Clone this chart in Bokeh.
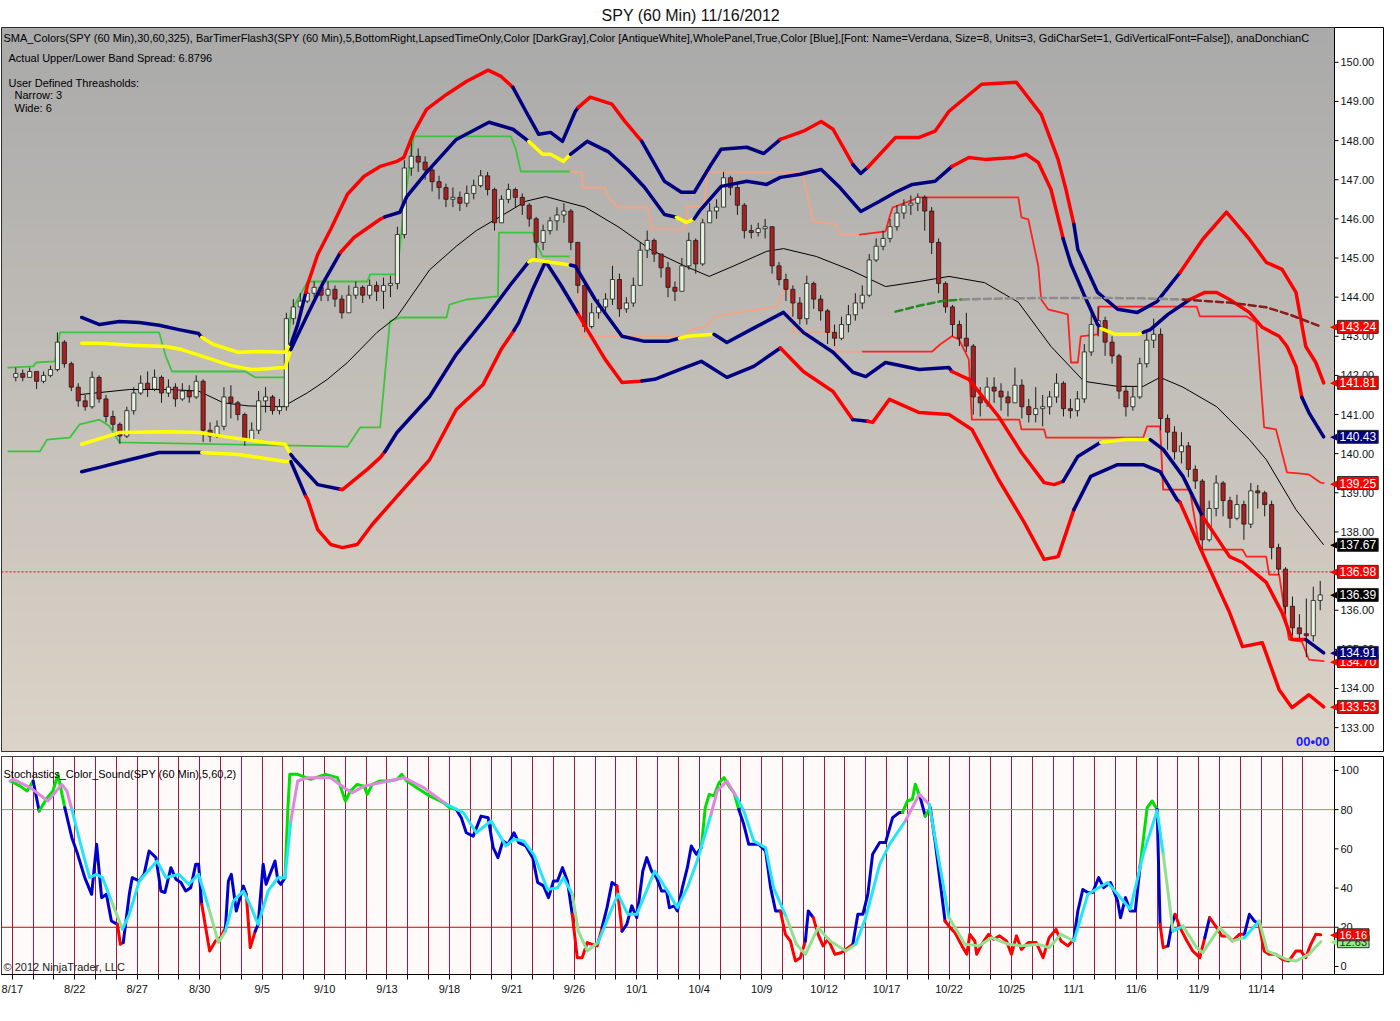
import numpy as np
from bokeh.plotting import figure
from bokeh.layouts import column
from bokeh.models import (ColumnDataSource, FixedTicker, Span, Label, Range1d)
from bokeh.core.properties import value
from bokeh.embed import file_html
from bokeh.resources import INLINE

FONT = "Liberation Sans"

# ---------------- data ----------------
dates = ["8/17", "8/20", "8/21", "8/22", "8/23", "8/24", "8/27", "8/28", "8/29", "8/30",
         "8/31", "9/4", "9/5", "9/6", "9/7", "9/10", "9/11", "9/12", "9/13", "9/14",
         "9/17", "9/18", "9/19", "9/20", "9/21", "9/24", "9/25", "9/26", "9/27", "9/28",
         "10/1", "10/2", "10/3", "10/4", "10/5", "10/8", "10/9", "10/10", "10/11", "10/12",
         "10/15", "10/16", "10/17", "10/18", "10/19", "10/22", "10/23", "10/24", "10/25", "10/26",
         "10/31", "11/1", "11/2", "11/5", "11/6", "11/7", "11/8", "11/9", "11/12", "11/13",
         "11/14", "11/15", "11/16"]
BARS_PER_DAY = 3
first_open = 141.95
closes = [142.05, 141.95, 142.10, 141.85, 142.00, 142.15, 142.85, 142.30, 141.70, 141.35, 141.20, 141.95,
          141.40, 140.95, 140.75, 140.45, 141.10, 141.55, 141.80, 141.65, 141.95, 141.55, 141.70, 141.40,
          141.60, 141.45, 141.85, 140.60, 140.45, 140.70, 141.45, 141.30, 141.00, 140.35, 140.60, 141.35,
          141.45, 141.10, 141.20, 143.45, 143.75, 143.90, 144.10, 144.25, 144.05, 144.20, 143.95, 143.60,
          144.05, 144.25, 144.05, 144.30, 144.15, 144.30, 144.35, 145.60, 147.30, 147.60, 147.45, 147.25,
          146.95, 146.80, 146.50, 146.55, 146.40, 146.65, 146.85, 147.10, 146.75, 145.90, 146.50, 146.75,
          146.55, 146.35, 146.00, 145.40, 145.70, 145.95, 146.10, 146.20, 145.40, 144.30, 143.25, 143.60,
          143.75, 143.95, 144.45, 143.70, 143.85, 144.30, 145.20, 145.45, 145.10, 144.75, 144.25, 144.15,
          144.80, 145.45, 144.85, 145.90, 146.20, 146.30, 147.05, 146.80, 146.35, 145.70, 145.65, 145.75,
          145.80, 144.80, 144.45, 144.20, 143.85, 143.45, 144.35, 143.95, 143.65, 143.10, 142.95, 143.30,
          143.55, 143.85, 144.05, 144.95, 145.30, 145.50, 145.80, 146.15, 146.35, 146.40, 146.55, 146.20,
          145.40, 144.35, 143.75, 143.30, 142.95, 142.75, 141.45, 141.30, 141.70, 141.60, 141.45, 141.30,
          141.75, 141.20, 141.00, 141.15, 141.20, 141.45, 141.80, 141.15, 141.10, 141.40, 142.60, 143.30,
          143.40, 142.85, 142.50, 141.60, 141.20, 141.45, 142.30, 142.90, 143.05, 140.90, 140.55, 140.05,
          140.20, 139.60, 139.30, 137.80, 138.60, 139.25, 138.80, 138.35, 138.70, 138.20, 139.05, 139.00,
          138.70, 137.60, 137.05, 136.10, 135.55, 135.40, 135.35, 136.25, 136.39]
highs = [142.20, 142.15, 142.20, 142.10, 142.10, 142.25, 143.10, 142.90, 142.35, 141.80, 141.50, 142.10,
         142.00, 141.50, 141.10, 140.80, 141.20, 141.70, 142.00, 142.10, 142.15, 142.00, 141.90, 141.80,
         141.80, 141.75, 142.00, 141.90, 140.80, 140.85, 141.70, 141.75, 141.35, 141.05, 140.80, 141.60,
         141.70, 141.50, 141.40, 143.60, 143.95, 144.10, 144.35, 144.40, 144.30, 144.40, 144.30, 144.05,
         144.30, 144.40, 144.30, 144.45, 144.40, 144.50, 144.55, 145.80, 147.50, 148.10, 147.80, 147.60,
         147.30, 147.10, 146.90, 146.80, 146.70, 146.85, 147.00, 147.25, 147.20, 146.80, 146.60, 146.90,
         146.80, 146.65, 146.40, 146.05, 145.85, 146.05, 146.30, 146.40, 146.25, 145.40, 144.40, 143.85,
         143.95, 144.10, 144.80, 144.60, 144.00, 144.50, 145.40, 145.70, 145.50, 145.10, 144.90, 144.40,
         145.00, 145.65, 145.50, 146.00, 146.40, 146.50, 147.20, 147.10, 146.90, 146.40, 145.85, 145.90,
         146.00, 145.80, 144.90, 144.60, 144.30, 144.00, 144.55, 144.40, 144.05, 143.70, 143.30, 143.50,
         143.80, 144.10, 144.30, 145.10, 145.50, 145.70, 146.00, 146.35, 146.50, 146.60, 146.65, 146.60,
         146.30, 145.50, 144.40, 143.80, 143.40, 143.60, 142.80, 141.70, 141.95, 141.95, 141.80, 141.60,
         142.20, 141.90, 141.40, 141.70, 141.50, 141.60, 142.05, 141.85, 141.40, 141.60, 142.80, 143.60,
         143.76, 143.50, 143.00, 142.55, 141.75, 141.70, 142.45, 143.10, 143.45, 143.20, 141.00, 140.70,
         140.55, 140.30, 139.70, 139.35, 138.80, 139.45, 139.30, 138.90, 138.95, 138.80, 139.25, 139.20,
         139.05, 138.80, 137.70, 137.10, 136.35, 135.90, 136.30, 136.60, 136.75]
lows = [141.85, 141.85, 141.95, 141.65, 141.80, 141.95, 142.10, 142.20, 141.60, 141.20, 141.10, 141.15,
        141.30, 140.80, 140.60, 140.25, 140.40, 141.00, 141.50, 141.45, 141.60, 141.30, 141.45, 141.20,
        141.35, 141.30, 141.40, 140.30, 140.30, 140.40, 140.60, 140.90, 140.85, 140.20, 140.30, 140.50,
        141.05, 141.00, 141.00, 141.10, 143.30, 143.60, 143.85, 144.00, 143.90, 143.90, 143.75, 143.45,
        143.60, 143.95, 143.85, 143.95, 143.90, 143.70, 144.00, 144.20, 145.50, 147.10, 147.20, 147.00,
        146.70, 146.50, 146.30, 146.30, 146.20, 146.30, 146.50, 146.80, 146.60, 145.70, 145.90, 146.40,
        146.30, 146.10, 145.80, 145.00, 145.20, 145.60, 145.70, 145.90, 145.20, 144.10, 143.10, 143.20,
        143.45, 143.60, 143.80, 143.50, 143.60, 143.75, 144.30, 145.00, 144.90, 144.50, 144.00, 143.90,
        144.15, 144.70, 144.60, 144.80, 145.90, 146.00, 146.30, 146.60, 146.10, 145.50, 145.50, 145.55,
        145.50, 144.60, 144.30, 143.90, 143.50, 143.30, 143.30, 143.70, 143.40, 142.80, 142.75, 142.90,
        143.10, 143.40, 143.70, 144.00, 144.90, 145.20, 145.40, 145.70, 146.00, 146.10, 146.20, 145.70,
        145.10, 144.10, 143.60, 143.00, 142.75, 142.60, 141.00, 140.95, 141.20, 141.30, 141.10, 140.95,
        141.30, 140.90, 140.80, 140.80, 140.70, 141.00, 141.30, 140.95, 140.90, 140.95, 141.30, 142.50,
        143.00, 142.50, 142.30, 141.40, 140.95, 141.10, 141.40, 142.20, 142.70, 140.60, 140.10, 139.85,
        139.75, 139.40, 139.10, 137.55, 137.75, 138.40, 138.40, 138.10, 138.30, 137.80, 138.10, 138.60,
        138.40, 137.30, 136.90, 135.90, 135.35, 135.25, 134.80, 135.20, 136.00]

# 60-bar SMA (thin black): (trading-day position, price)
sma_t = [3.24, 5.62, 7.52, 8.95, 10.14, 11.33, 13.00, 14.19, 15.14, 16.10, 17.52, 18.48, 20.05, 21.33,
         22.29, 23.57, 24.67, 25.62, 27.52, 29.10, 30.71, 32.29, 33.48, 34.67, 36.24, 37.05, 38.62, 40.24,
         41.95, 43.57, 45.00, 46.71, 48.33, 49.90, 51.48, 53.10, 54.33, 55.14, 56.24, 57.86, 59.43, 60.24,
         61.67, 63.00]
sma_v = [141.51, 141.64, 141.64, 141.60, 141.30, 141.22, 141.20, 141.56, 141.90, 142.33, 143.10, 143.50,
         144.70, 145.30, 145.70, 146.10, 146.45, 146.57, 146.30, 145.80, 145.20, 144.80, 144.53, 144.80,
         145.17, 145.24, 145.04, 144.70, 144.27, 144.40, 144.53, 144.37, 143.87, 142.74, 141.85, 141.72,
         141.72, 141.95, 141.70, 141.20, 140.36, 139.85, 138.57, 137.67]

# Band states: n = narrow spread, m = normal, w = wide spread (per segment starting at each point)
ou_t = [3.33, 4.19, 5.14, 6.10, 7.05, 8.00, 8.95, 9.10, 9.67, 10.86, 11.81, 13.10, 13.38, 13.71, 14.10,
        14.19, 14.67, 15.29, 16.10, 16.90, 17.67, 18.48, 18.81, 19.29, 19.90, 20.86, 21.81, 22.86, 23.48,
        24.05, 24.67, 25.29, 25.86, 26.43, 27.05, 27.19, 27.76, 28.81, 29.43, 30.24, 31.33, 32.14, 32.76,
        33.57, 34.05, 35.29, 36.10, 36.90, 38.00, 38.86, 39.43, 40.38, 40.76, 41.10, 42.43, 43.57, 44.33,
        45.00, 46.57, 48.24, 49.43, 50.24, 50.62, 51.00, 51.19, 52.14, 53.10, 54.05, 55.00, 56.10, 57.19,
        58.33, 59.43, 60.24, 61.00, 61.67, 62.14, 62.62, 63.00]
ou_v = [143.48, 143.30, 143.38, 143.35, 143.28, 143.17, 143.07, 142.97, 142.79, 142.59, 142.61, 142.59,
        142.79, 143.30, 144.12, 144.33, 145.09, 145.73, 146.63, 147.09, 147.34, 147.47, 147.57, 148.21,
        148.80, 149.18, 149.51, 149.80, 149.64, 149.36, 148.75, 148.16, 148.21, 147.98, 148.75, 148.85,
        149.11, 148.93, 148.49, 147.98, 146.96, 146.68, 146.68, 147.39, 147.78, 147.83, 147.67, 148.03,
        148.24, 148.49, 148.29, 147.39, 147.16, 147.32, 148.08, 148.08, 148.24, 148.75, 149.44, 149.49,
        148.67, 147.52, 146.75, 145.86, 145.22, 144.12, 143.69, 143.61, 143.89, 144.63, 145.48, 146.17,
        145.48, 144.89, 144.71, 144.12, 142.74, 142.33, 141.81]
ou_state = ("m" * 7 + "n" * 5 + "m" * 2 + "w" * 15 + "m" * 6 + "w" * 4 + "m" * 8 + "w" * 4 + "m" * 2
            + "w" * 10 + "m" * 6 + "w" * 10)

ol_t = [3.33, 4.19, 5.29, 7.05, 8.95, 9.10, 10.86, 13.10, 13.38, 13.71, 14.10, 14.19, 14.67, 15.29, 15.86,
        16.57, 17.29, 18.48, 20.05, 21.33, 22.62, 23.48, 24.10, 24.33, 25.00, 25.62, 26.33, 27.05, 27.19,
        27.62, 28.48, 29.29, 30.14, 30.24, 30.86, 32.05, 33.10, 34.33, 35.62, 36.90, 38.00, 39.43, 40.38,
        41.10, 41.33, 42.14, 43.57, 45.00, 46.10, 47.38, 48.62, 49.57, 50.24, 51.00, 51.81, 53.10, 54.33,
        55.14, 55.95, 56.10, 57.38, 58.48, 59.10, 60.05, 60.86, 61.48, 62.29, 63.00]
ol_v = [139.54, 139.65, 139.80, 140.03, 140.03, 140.03, 139.98, 139.80, 139.80, 139.39, 138.91, 138.83,
        138.06, 137.68, 137.60, 137.68, 138.19, 138.91, 139.85, 141.13, 141.77, 142.66, 143.15, 143.35,
        144.20, 144.91, 144.33, 143.69, 143.56, 143.17, 142.41, 141.82, 141.85, 141.86, 141.90, 142.15,
        142.36, 141.95, 142.23, 142.70, 142.10, 141.59, 140.87, 140.83, 140.80, 141.39, 141.05, 141.00,
        140.62, 139.34, 138.24, 137.30, 137.37, 138.57, 139.42, 139.72, 139.72, 139.54, 138.83, 138.75,
        137.22, 135.94, 135.07, 135.17, 133.97, 133.51, 133.84, 133.53]
ol_state = ("m" * 5 + "n" * 3 + "m" * 2 + "w" * 12 + "m" * 6 + "w" * 5 + "m" * 6 + "w" * 3 + "m" * 1
            + "w" * 10 + "m" * 6 + "w" * 9)

iu_t = [3.33, 4.19, 5.76, 7.38, 8.14, 9.29, 10.52, 11.48, 13.10, 13.38, 14.19, 14.90, 15.76, 16.43, 17.67,
        17.90, 18.62, 18.95, 19.90, 21.33, 22.90, 24.05, 24.81, 25.48, 25.86, 26.48, 26.81, 27.62, 28.62,
        29.57, 30.38, 31.33, 31.90, 32.38, 32.76, 33.00, 34.05, 35.29, 36.24, 36.90, 37.86, 38.86, 39.76,
        40.76, 41.67, 42.43, 43.24, 44.33, 45.14, 45.95, 46.71, 48.14, 48.71, 49.29, 49.90, 50.38, 50.48,
        50.86, 51.48, 52.14, 52.29, 53.00, 54.05, 54.33, 54.67, 55.52, 56.57, 57.29, 57.86, 58.48, 59.43,
        60.05, 60.86, 61.24, 61.67, 61.95, 62.29, 63.00]
iu_v = [142.82, 142.82, 142.77, 142.74, 142.66, 142.46, 142.25, 142.15, 142.20, 142.66, 143.56, 144.33,
        145.14, 145.53, 145.99, 146.05, 146.17, 146.57, 147.19, 148.03, 148.47, 148.29, 147.98, 147.65,
        147.65, 147.47, 147.65, 147.98, 147.72, 147.26, 146.80, 146.11, 146.04, 145.91, 146.00, 146.19,
        146.83, 146.96, 146.88, 147.06, 147.14, 147.26, 146.80, 146.19, 146.45, 146.68, 146.88, 146.96,
        147.34, 147.57, 147.52, 147.57, 147.65, 147.44, 146.75, 145.73, 145.50, 144.84, 144.07, 143.30,
        143.20, 143.05, 143.05, 143.10, 143.17, 143.56, 143.94, 144.12, 144.12, 143.94, 143.61, 143.23,
        143.00, 142.74, 142.23, 141.44, 141.05, 140.43]
iu_state = ("n" * 9 + "m" * 3 + "w" * 3 + "m" * 7 + "n" * 4 + "m" * 6 + "n" * 2 + "m" * 14 + "w" * 8
            + "m" * 4 + "n" * 3 + "m" * 3 + "w" * 9 + "m" * 3)

il_t = [3.33, 5.14, 7.38, 8.95, 10.52, 12.14, 13.10, 13.38, 13.57, 14.67, 15.76, 15.86, 17.05, 17.67,
        17.90, 18.48, 20.05, 21.33, 22.76, 23.95, 24.81, 25.00, 25.62, 26.81, 27.05, 28.00, 29.29, 30.38,
        31.48, 32.05, 32.43, 33.71, 34.33, 35.48, 37.05, 38.00, 39.43, 40.38, 41.00, 41.95, 43.57, 45.00,
        45.14, 45.95, 47.38, 48.48, 49.57, 50.05, 50.48, 51.19, 52.29, 53.48, 54.67, 55.29, 56.24, 57.19,
        58.48, 59.10, 60.24, 61.00, 61.48, 62.14, 63.00]
il_v = [140.24, 140.54, 140.56, 140.54, 140.41, 140.29, 140.24, 139.98, 139.85, 139.21, 139.09, 139.08,
        139.60, 139.90, 140.05, 140.54, 141.46, 142.54, 143.48, 144.33, 144.90, 144.96, 144.91, 144.82,
        144.79, 143.94, 143.00, 142.87, 142.87, 142.95, 143.00, 143.05, 142.84, 143.17, 143.61, 143.10,
        142.59, 142.08, 141.97, 142.33, 142.15, 142.20, 142.10, 141.90, 140.95, 140.03, 139.26, 139.21,
        139.29, 139.93, 140.29, 140.36, 140.36, 140.11, 139.42, 138.39, 137.37, 137.22, 136.71, 135.94,
        135.25, 135.25, 134.91]
il_state = ("n" * 7 + "m" * 3 + "w" * 4 + "m" * 6 + "n" * 3 + "m" * 6 + "n" * 2 + "m" * 11 + "w" * 6
            + "m" * 2 + "n" * 2 + "m" * 3 + "w" * 6 + "m" * 2)

# Donchian channel (phase a / b / c)
du_t = [-0.19, 1.00, 1.14, 2.05, 2.29, 7.05, 7.38, 7.67, 11.19, 11.67, 13.10, 13.38, 14.19, 17.05, 17.19,
        18.48, 18.86, 19.29, 23.95, 24.19, 24.43, 26.81, 27.38, 27.40, 28.48, 28.62, 29.10, 30.52, 30.71,
        32.29, 32.43, 33.24, 33.38, 37.86, 38.00, 38.48, 39.57, 39.76, 40.71, 41.95, 42.14, 42.29, 43.57,
        48.33, 48.48, 48.81, 49.29, 49.43, 49.76, 50.71, 50.86, 51.19, 51.33, 52.14, 52.19, 56.90, 57.05,
        59.29, 59.76, 60.14, 60.71, 61.24, 62.29, 62.86, 63.00]
du_v = [142.20, 142.23, 142.33, 142.36, 143.10, 143.10, 142.48, 142.10, 142.10, 141.95, 141.95, 143.63,
        144.40, 144.40, 144.58, 144.58, 146.50, 148.11, 148.11, 147.78, 147.21, 147.21, 147.19, 146.80,
        146.80, 146.55, 146.29, 146.29, 145.73, 145.73, 146.32, 146.32, 147.19, 147.19, 147.06, 145.94,
        145.86, 145.60, 145.60, 145.68, 146.04, 146.29, 146.55, 146.55, 146.04, 145.99, 144.79, 143.94,
        143.69, 143.56, 142.33, 142.33, 143.00, 143.05, 143.76, 143.76, 143.51, 143.51, 143.35, 140.67,
        140.62, 139.52, 139.47, 139.26, 139.25]
du_phase = "a" * 21 + "b" * 17 + "c" * 27
dl_t = [-0.19, 1.33, 1.67, 2.76, 3.24, 4.19, 4.67, 5.14, 16.10, 16.71, 17.67, 18.14, 18.62, 20.86, 21.00,
        21.81, 23.33, 23.38, 25.00, 25.14, 25.48, 26.81, 27.05, 27.38, 32.29, 32.62, 33.38, 33.71, 36.71,
        37.05, 37.38, 37.52, 39.43, 39.57, 40.86, 44.19, 44.57, 45.14, 45.48, 45.95, 46.10, 48.38, 48.48,
        49.57, 49.67, 54.33, 54.52, 55.14, 55.29, 56.57, 57.05, 59.10, 59.29, 60.24, 60.38, 60.86, 61.33,
        61.95, 62.29, 63.00]
dl_v = [140.06, 140.06, 140.36, 140.41, 140.75, 140.87, 140.70, 140.29, 140.18, 140.67, 140.67, 143.38,
        143.48, 143.48, 143.81, 143.94, 144.02, 145.65, 145.65, 145.40, 145.04, 145.04, 144.79, 143.00,
        143.00, 143.17, 143.25, 143.51, 143.76, 144.15, 144.15, 143.10, 143.10, 142.61, 142.61, 142.61,
        142.79, 143.00, 142.92, 142.41, 140.87, 140.87, 140.62, 140.62, 140.41, 140.41, 140.70, 140.70,
        139.08, 139.08, 137.55, 137.55, 137.37, 137.37, 136.91, 136.91, 135.25, 135.20, 134.74, 134.70]
dl_phase = "a" * 21 + "b" * 13 + "c" * 26

# projection (dashed)
fc_t = [42.43, 43.71, 44.67, 45.62, 47.05, 49.43, 51.81, 54.19, 56.24, 58.48, 60.24, 61.33, 62.90]
fc_v = [143.63, 143.80, 143.90, 143.94, 143.96, 143.98, 143.98, 143.97, 143.94, 143.86, 143.74, 143.56, 143.24]
fc_phase = "a" * 3 + "b" * 5 + "c" * 5
alert_level = 136.98

price_ticks = list(range(133, 151))
stoch_ticks = [0, 20, 40, 60, 80, 100]

# Stochastics %K and %D
k_t = [-0.10, 0.38, 0.71, 1.00, 1.29, 1.67, 1.95, 2.19, 2.52, 2.86, 3.14, 3.48, 3.81, 4.05, 4.29, 4.52,
       4.76, 5.05, 5.19, 5.33, 5.62, 5.76, 6.10, 6.33, 6.57, 6.90, 7.14, 7.33, 7.62, 7.86, 8.10, 8.33,
       8.57, 8.81, 8.95, 9.10, 9.29, 9.48, 9.76, 10.00, 10.24, 10.38, 10.52, 10.76, 11.10, 11.24, 11.43,
       11.67, 11.81, 12.05, 12.19, 12.62, 12.76, 12.90, 13.10, 13.24, 13.33, 13.71, 14.33, 15.05, 15.62,
       16.00, 16.24, 16.57, 16.90, 17.05, 17.29, 17.67, 18.10, 18.48, 18.71, 18.95, 19.43, 20.05, 20.71,
       21.00, 21.33, 21.57, 21.81,
       22.14, 22.52, 22.86, 23.10, 23.33, 23.57, 23.81, 24.10, 24.33, 24.67, 25.00, 25.24, 25.52, 25.76,
       26.00, 26.19, 26.43, 26.67, 26.90, 27.14, 27.38, 27.62, 27.86, 28.10, 28.33, 28.57, 28.81, 29.05,
       29.29, 29.52, 29.76, 30.00, 30.29, 30.48, 30.71, 30.95, 31.19, 31.43, 31.57, 31.81, 31.95, 32.19,
       32.43, 32.62, 32.86, 33.10, 33.29, 33.48, 33.71, 33.95, 34.19, 34.43, 34.67, 34.90, 35.14, 35.38,
       35.62, 35.86, 36.19, 36.43, 36.67, 36.90, 37.14, 37.38, 37.62, 37.86, 38.10, 38.24, 38.48, 38.71,
       38.95, 39.19, 39.52, 39.81, 40.05, 40.38, 40.62, 40.86, 41.10, 41.33, 41.67, 41.95, 42.29, 42.62,
       42.76, 43.00, 43.24, 43.38, 43.62,
       43.86, 44.10, 44.33, 44.57, 44.81, 45.05, 45.29, 45.62, 45.86, 46.00, 46.24, 46.33, 46.57, 46.90,
       47.14, 47.43, 47.76, 48.00, 48.24, 48.48, 48.81, 49.19, 49.52, 49.81, 50.14, 50.38, 50.71, 51.00,
       51.19, 51.43, 51.67, 51.90, 52.19, 52.43, 52.76, 53.10, 53.24, 53.48, 53.71, 53.95, 54.19, 54.52,
       54.76, 55.00, 55.14, 55.29, 55.52, 55.71, 55.86, 56.10, 56.43, 56.71, 57.05, 57.29, 57.52, 57.86,
       58.10, 58.38, 58.62, 58.95, 59.19, 59.43, 59.67, 59.90, 60.14, 60.38, 60.71, 61.00, 61.33, 61.67,
       61.90, 62.14, 62.38, 62.62, 62.86]
k_v = [94.6, 92.0, 89.5, 94.6, 79.3, 86.0, 89.5, 98.0, 81.0, 65.7, 57.2, 45.3, 36.8, 62.3, 35.1, 36.8,
       23.2, 21.5, 11.3, 12.2, 36.8, 45.3, 43.6, 47.0, 58.9, 55.5, 38.5, 37.7, 50.4, 44.5, 42.8, 38.5,
       40.2, 52.1, 52.1, 31.7, 19.8, 7.9, 13.0, 14.7, 19.8, 43.6, 47.0, 28.3, 41.0, 36.8, 9.6,
       18.0, 21.5, 52.1, 41.9, 53.8, 43.6, 41.9, 45.3, 81.0, 98.0, 98.0, 95.4, 98.0, 96.3,
       84.4, 89.5, 92.9, 92.0, 87.8, 92.9, 94.6, 94.6, 95.4, 98.0, 94.6, 91.2, 87.0, 83.6,
       81.0, 80.1, 75.9, 68.2,
       66.5, 76.7, 75.9, 60.6, 55.5, 64.0, 62.3, 68.2, 63.2, 61.5, 55.5, 42.8, 41.1, 35.1,
       43.6, 43.6, 50.4, 43.6, 26.6, 4.5, 4.5, 12.2, 11.3, 10.5, 19.8, 30.0, 42.8, 41.1,
       18.0, 21.5, 30.9, 24.9, 48.7, 55.5, 48.7, 45.3, 38.5, 38.5, 30.0, 30.9, 28.3, 40.2,
       50.4, 61.5, 57.2, 60.6, 81.0, 87.8, 87.0, 93.7, 96.3, 92.0, 88.6, 80.1, 72.5, 62.3,
       62.3, 62.3, 58.9, 40.2, 28.3, 28.3, 16.4, 13.0, 2.8, 4.5, 13.0, 28.3, 24.9, 16.4,
       10.5, 13.9, 6.2, 7.0, 8.7, 11.3, 26.6, 26.6, 36.8, 57.2, 63.2, 63.2, 75.9, 78.5,
       78.5, 84.4, 85.3, 92.9, 86.1,
       76.7, 81.0, 64.0, 43.6, 23.2, 19.8, 17.2, 10.5, 6.2, 16.4, 13.0, 6.2, 11.3, 16.4,
       13.9, 15.6, 13.0, 6.2, 15.6, 8.7, 12.2, 12.2, 4.5, 14.7, 18.9, 13.0, 10.5, 13.9,
       28.3, 39.3, 37.7, 37.7, 45.3, 40.2, 42.8, 33.4, 24.9, 35.1, 28.3, 28.3, 52.1, 81.0,
       84.4, 80.1, 21.5, 9.6, 10.5, 21.5, 26.6, 19.8, 13.0, 7.9, 4.5, 14.7, 24.9, 19.8,
       15.6, 15.6, 13.0, 16.4, 16.4, 26.6, 23.2, 21.5, 7.9, 6.2, 6.2, 3.7, 2.8, 7.9,
       7.9, 4.5, 11.3, 16.4, 16.16]
d_t = [-0.10, 0.05, 0.86, 1.71, 2.38, 2.62, 2.86, 3.24, 3.71, 4.05, 4.33, 4.76, 5.29, 5.62, 6.10, 6.95,
       7.38, 8.00, 8.48, 8.95, 9.43, 9.90, 10.24, 10.62, 11.10, 11.48, 11.81, 12.29, 12.76, 13.10, 13.38,
       13.71, 14.19, 15.29, 15.95, 16.33, 16.90, 17.67, 18.81, 19.76, 20.86, 21.67, 22.29, 23.00, 23.71,
       24.10, 24.57, 25.05, 25.71, 26.19, 26.48, 26.90, 27.19, 27.62, 28.14, 28.62, 29.10, 29.57, 30.00,
       30.86, 31.48, 31.95, 32.43, 32.90, 33.57, 33.86, 34.33, 34.81, 35.14, 35.62, 36.19, 36.57, 37.19,
       37.67, 38.10, 38.71, 39.29, 40.05, 40.52, 41.00, 41.67, 42.14, 42.90, 43.57, 44.05, 44.52, 45.00,
       45.29, 45.76, 46.43, 47.05, 47.86, 48.48, 49.29, 49.81, 50.38, 51.00, 51.67, 52.62, 53.24, 53.71,
       54.33, 55.00, 55.29, 55.76, 56.24, 56.90, 57.19, 58.00, 58.62, 59.19, 59.90, 60.29, 61.19, 61.67,
       62.29, 62.86]
d_v = [94.6, 95.4, 91.2, 84.4, 92.9, 89.5, 80.1, 64.0, 45.3, 47.0, 45.3, 33.4, 19.0, 26.6, 43.6, 53.8,
       45.3, 47.0, 41.9, 47.0, 30.0, 12.2, 18.0, 33.4, 38.5, 30.0, 21.5, 38.5, 45.3, 45.3, 74.2,
       94.6, 96.3, 96.3, 91.2, 88.6, 92.0, 93.7, 96.3, 91.2, 82.7, 78.4, 68.2, 74.2, 61.5,
       64.9, 64.0, 57.2, 39.3, 40.2, 45.3, 36.8, 18.0, 7.9, 12.2, 24.9, 36.8, 26.6, 26.6,
       48.7, 38.5, 30.0, 40.2, 53.8, 77.6, 89.5, 94.6, 86.1, 79.3, 64.0, 60.6, 40.2, 24.9,
       11.3, 6.2, 19.8, 13.0, 7.9, 11.3, 24.9, 52.1, 62.3, 74.2, 87.8, 82.7, 53.8, 24.9,
       19.8, 11.3, 10.5, 14.7, 11.3, 10.5, 11.3, 9.6, 16.4, 13.0, 36.8, 42.8, 35.1, 29.2,
       57.2, 79.5, 57.2, 18.0, 20.6, 9.6, 7.0, 19.8, 13.0, 14.7, 23.2, 7.9, 3.7, 2.8,
       6.2, 12.63]

for a, b in [(closes, highs), (closes, lows), (ou_t, ou_v), (ou_t, ou_state), (ol_t, ol_v), (ol_t, ol_state),
             (iu_t, iu_v), (iu_t, iu_state), (il_t, il_v), (il_t, il_state), (du_t, du_v), (du_t, du_phase),
             (dl_t, dl_v), (dl_t, dl_phase), (fc_t, fc_v), (fc_t, fc_phase), (sma_t, sma_v),
             (k_t, k_v), (d_t, d_v)]:
    assert len(a) == len(b), (len(a), len(b))
assert len(closes) == len(dates) * BARS_PER_DAY

# ---------------- layout constants ----------------
X_START, X_END = -0.52, 63.52          # chart panel (trading-day units)
PANEL_PX, STRIP_PX = 1333, 50          # panel width and value-scale strip width (px)
PX_PER_DAY = PANEL_PX / (X_END - X_START)
X_STRIP = X_END + STRIP_PX / PX_PER_DAY
TICK_LEN = 4 / PX_PER_DAY
LABEL_GAP = 6 / PX_PER_DAY
P_MIN, P_MAX = 132.39, 150.89
S_MIN, S_MAX = -4.1, 107.1

BAND_COL = {"n": "#ffff00", "m": "#000080", "w": "#ff0000"}
DON_COL = {"a": "#3cc43c", "b": "#f4a383", "c": "#ff2020"}
FC_COL = {"a": "#228b22", "b": "#8c8c8c", "c": "#8b1a1a"}


def colored_line(p, ts, vs, codes, palette, width, dash="solid"):
    n = len(ts)
    s = 0
    for i in range(1, n):
        if i == n - 1 or codes[i] != codes[s]:
            p.line(ts[s:i + 1], vs[s:i + 1], line_color=palette[codes[s]], line_width=width,
                   line_join="round", line_cap="round", line_dash=dash)
            s = i


def zone_codes(vals, hi=80, lo=20):
    out = []
    for i in range(len(vals)):
        v = vals[i + 1] if i + 1 < len(vals) else vals[i]
        out.append("h" if v > hi else ("l" if v < lo else "m"))
    return out


def value_scale(p, ticks, fmt):
    n = len(ticks)
    p.segment(x0=[X_END] * n, x1=[X_END + TICK_LEN] * n, y0=ticks, y1=ticks, line_color="black",
              line_width=1)
    p.text(x=[X_END + LABEL_GAP] * n, y=ticks, text=[fmt.format(v) for v in ticks],
           text_font=value(FONT), text_font_size=value("11px"), text_color="#101010",
           text_baseline="middle", text_align="left")
    p.add_layout(Span(location=X_END, dimension="height", line_color="black", line_width=1))


def tag(p, y, bg, fg, size="12px"):
    p.add_layout(Label(x=X_END, y=y, x_offset=4, text="\u25c0", text_color=bg, text_font="DejaVu Sans",
                       text_font_size="11px", text_align="right", text_baseline="middle"))
    p.add_layout(Label(x=X_END, y=y, x_offset=3, text=f"{y:.2f}", text_color=fg, text_font=FONT,
                       text_font_size=size, text_align="left", text_baseline="middle",
                       background_fill_color=bg, border_line_color="#303030", border_line_width=1,
                       padding=2))


# ---------------- main price panel ----------------
p1 = figure(frame_width=PANEL_PX + STRIP_PX, frame_height=724, output_backend="svg",
            toolbar_location=None,
            x_range=Range1d(X_START, X_STRIP), y_range=Range1d(P_MIN, P_MAX),
            x_axis_location=None, y_axis_location=None,
            min_border_left=1, min_border_right=0, min_border_bottom=4, min_border_top=0)
p1.title.text = "SPY (60 Min)  11/16/2012"
p1.title.align = "center"
p1.title.offset = 19
p1.title.text_font = FONT
p1.title.text_font_size = "16px"
p1.title.text_font_style = "normal"
p1.title.text_color = "#111111"
try:
    p1.title.standoff = 8
except AttributeError:
    pass
p1.grid.visible = False
p1.outline_line_color = "black"
p1.border_fill_color = "white"
p1.background_fill_color = "white"

# background gradient DarkGray -> antique tone (panel only)
nrow = 240
frac = np.linspace(0.0, 1.0, nrow)[:, None]
top_rgb = np.array([170, 170, 170])
bot_rgb = np.array([220, 212, 200])
rgb = bot_rgb + (top_rgb - bot_rgb) * frac
img = np.zeros((nrow, 1), dtype=np.uint32)
view = img.view(dtype=np.uint8).reshape((nrow, 1, 4))
view[:, 0, 0:3] = rgb.astype(np.uint8)
view[:, 0, 3] = 255
p1.image_rgba(image=[img], x=X_START, y=P_MIN, dw=X_END - X_START, dh=P_MAX - P_MIN)

# Donchian
colored_line(p1, du_t, du_v, du_phase, DON_COL, 1.8)
colored_line(p1, dl_t, dl_v, dl_phase, DON_COL, 1.8)

# SMA
p1.line(sma_t, sma_v, line_color="black", line_width=1)

# candles
bar_t = [d + (k + 0.5) / BARS_PER_DAY for d in range(len(dates)) for k in range(BARS_PER_DAY)]
opens = [first_open] + closes[:-1]
up = [c >= o for o, c in zip(opens, closes)]
csrc = ColumnDataSource(dict(
    t=bar_t, o=opens, h=highs, l=lows, c=closes,
    top=[max(o, c) for o, c in zip(opens, closes)],
    bot=[min(o, c) for o, c in zip(opens, closes)],
    fill=["#e6f2e0" if u else "#a82020" for u in up]))
p1.segment(x0="t", y0="l", x1="t", y1="h", source=csrc, line_color="#1a1a1a", line_width=1)
p1.vbar(x="t", width=0.2, top="top", bottom="bot", source=csrc, fill_color="fill",
        line_color="#1a1a1a", line_width=0.8)

# bands
colored_line(p1, ou_t, ou_v, ou_state, BAND_COL, 3.5)
colored_line(p1, ol_t, ol_v, ol_state, BAND_COL, 3.5)
colored_line(p1, iu_t, iu_v, iu_state, BAND_COL, 3.5)
colored_line(p1, il_t, il_v, il_state, BAND_COL, 3.5)

# projection
colored_line(p1, fc_t, fc_v, fc_phase, FC_COL, 2.5, dash="7 4")

p1.segment(x0=[X_START], x1=[X_END], y0=[alert_level], y1=[alert_level], line_color="#e00000",
           line_dash="2 2", line_width=1)

value_scale(p1, price_ticks, "{:.2f}")

# texts
info = [
    ("SMA_Colors(SPY (60 Min),30,60,325), BarTimerFlash3(SPY (60 Min),5,BottomRight,LapsedTimeOnly,"
     "Color [DarkGray],Color [AntiqueWhite],WholePanel,True,Color [Blue],[Font: Name=Verdana, Size=8, "
     "Units=3, GdiCharSet=1, GdiVerticalFont=False]), anaDonchianC", 2, -4),
    ("Actual Upper/Lower Band Spread: 6.8796", 7, -24),
    ("User Defined Threasholds:", 7, -49),
    ("Narrow: 3", 13, -61),
    ("Wide: 6", 13, -74),
]
for txt, xo, yo in info:
    p1.add_layout(Label(x=X_START, y=P_MAX, x_offset=xo, y_offset=yo, text=txt, text_font=FONT,
                        text_font_size="11px", text_color="black",
                        text_baseline="top", text_align="left"))
p1.add_layout(Label(x=X_END, y=P_MIN, x_offset=-5, y_offset=3, text="00\u202200", text_font=FONT,
                    text_font_size="13px", text_font_style="bold", text_color="#1a1aff",
                    text_align="right", text_baseline="bottom"))

# value tags on the scale
tag(p1, fc_v[-1], "#ff0000", "white")
tag(p1, ou_v[-1], "#ff0000", "white")
tag(p1, iu_v[-1], "#000080", "white")
tag(p1, du_v[-1], "#ff0000", "white")
tag(p1, sma_v[-1], "#000000", "white")
tag(p1, alert_level, "#ff0000", "white")
tag(p1, closes[-1], "#000000", "white")
tag(p1, dl_v[-1], "#ff0000", "white")
tag(p1, il_v[-1], "#000080", "white")
tag(p1, ol_v[-1], "#ff0000", "white")

# ---------------- stochastics panel ----------------
p2 = figure(frame_width=PANEL_PX + STRIP_PX, frame_height=218, output_backend="svg",
            toolbar_location=None,
            x_range=p1.x_range, y_range=Range1d(S_MIN, S_MAX), y_axis_location=None,
            min_border_left=1, min_border_right=0, min_border_top=1, min_border_bottom=24)
p2.background_fill_color = "white"
p2.border_fill_color = "white"
p2.outline_line_color = "black"
p2.ygrid.visible = False
p2.quad(left=[X_START], right=[X_END], bottom=[S_MIN], top=[S_MAX], fill_color="#fffafa",
        line_color=None, level="underlay")

xa = p2.xaxis[0]
xa.ticker = FixedTicker(ticks=list(range(len(dates))))
xa.major_label_overrides = {i: (dates[i] if i % 3 == 0 else "") for i in range(len(dates))}
xa.major_label_text_font = FONT
xa.major_label_text_font_size = "11px"
xa.major_label_text_color = "#101010"
xa.major_tick_out = 5
xa.major_tick_in = 0
xa.minor_tick_out = 0
xa.axis_line_color = "black"
xa.major_label_standoff = 3
p2.xgrid.grid_line_color = "#a0183c"
p2.xgrid.grid_line_width = 1

p2.segment(x0=[X_START, X_START], x1=[X_END, X_END], y0=[80, 20], y1=[80, 20],
           line_color=["#3ccc3c", "#cc0000"], line_width=1)

colored_line(p2, k_t, k_v, zone_codes(k_v), {"h": "#00e000", "m": "#0000cd", "l": "#ff0000"}, 3)
colored_line(p2, d_t, d_v, zone_codes(d_v), {"h": "#dd88dd", "m": "#22e6f6", "l": "#90e090"}, 3)

value_scale(p2, stoch_ticks, "{:d}")

p2.add_layout(Label(x=X_START, y=S_MAX, x_offset=2, y_offset=-11,
                    text="Stochastics_Color_Sound(SPY (60 Min),5,60,2)", text_font=FONT,
                    text_font_size="11px", text_color="black", text_baseline="top"))
p2.add_layout(Label(x=X_START, y=S_MIN, x_offset=2, y_offset=2, text="\u00a9 2012 NinjaTrader, LLC",
                    text_font=FONT, text_font_size="11px", text_color="#202020",
                    text_baseline="bottom"))
tag(p2, d_v[-1], "#90ee90", "#203020", size="11px")
tag(p2, k_v[-1], "#ff0000", "white", size="11px")

layout = column(p1, p2)
open("out.html", "w").write(file_html(layout, INLINE, "SPY (60 Min) 11/16/2012"))
